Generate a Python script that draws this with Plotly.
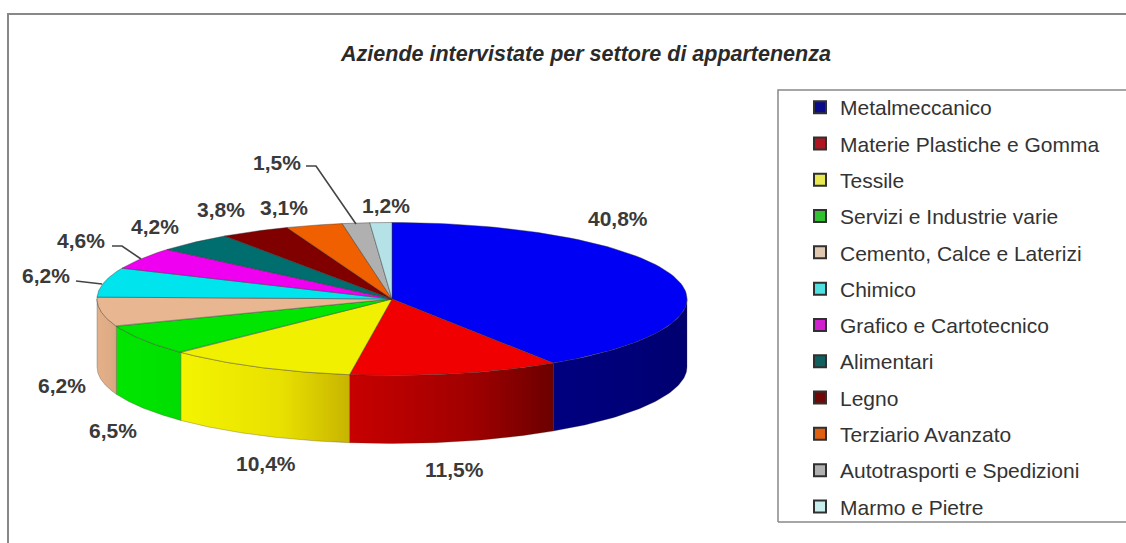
import numpy as np
import plotly.graph_objects as go

categories = ["Metalmeccanico", "Materie Plastiche e Gomma", "Tessile", "Servizi e Industrie varie",
              "Cemento, Calce e Laterizi", "Chimico", "Grafico e Cartotecnico", "Alimentari", "Legno",
              "Terziario Avanzato", "Autotrasporti e Spedizioni", "Marmo e Pietre"]
values = [40.8, 11.5, 10.4, 6.5, 6.2, 6.2, 4.6, 4.2, 3.8, 3.1, 1.5, 1.2]
top_colors = ["#0000F5", "#F00000", "#F0F000", "#00E600", "#E8B690", "#00E4EE",
              "#F000F0", "#006E6E", "#800000", "#F06000", "#B0B0B0", "#B4E2E6"]
wall_left = ["#000080", "#C80000", "#F4F400", "#00E600", "#E4B08A", "#00E4EE",
             "#F000F0", "#006E6E", "#800000", "#F06000", "#B0B0B0", "#B4E2E6"]
wall_mid = ["#000078", "#A00000", "#E8E000", "#00E200", "#DEAC86", "#00E4EE",
            "#F000F0", "#006E6E", "#800000", "#F06000", "#B0B0B0", "#B4E2E6"]
wall_right = ["#000070", "#6C0000", "#C8B400", "#00DC00", "#D8A880", "#00E4EE",
              "#F000F0", "#006E6E", "#800000", "#F06000", "#B0B0B0", "#B4E2E6"]
legend_colors = ["#0A0A8C", "#B01420", "#E8E850", "#30C030", "#E0C8B0", "#50E0E0",
                 "#D020D0", "#106060", "#700808", "#E06010", "#B0B0B0", "#C8EEEE"]

W, H = 1126, 543
CX, CY, RX, RY = 392, 299, 295, 76.5
DEPTH = 68 / RY

labels = [f"{v:.1f}%".replace(".", ",") for v in values]
label_px = [(618, 218), (455, 469), (266, 463), (113, 430), (62, 385), (46, 275),
            (81, 240), (155, 227), (221, 209), (284, 207), (386, 205), (277, 162)]
label_order = [0, 1, 2, 3, 4, 5, 6, 7, 8, 9, 11, 10]

def px(x): return x / W
def py(y): return 1 - y / H

fig = go.Figure()
edges = np.concatenate([[0], np.cumsum(values)]) / sum(values) * 2 * np.pi

for i in range(len(values)):
    a0, a1 = max(edges[i], np.pi / 2), min(edges[i + 1], 3 * np.pi / 2)
    if a1 <= a0:
        continue
    t = np.linspace(a0, a1, 60)
    xs = np.concatenate([np.sin(t), np.sin(t[::-1])])
    ys = np.concatenate([np.cos(t), np.cos(t[::-1]) - DEPTH])
    fig.add_trace(go.Scatter(
        x=np.append(xs, xs[0]), y=np.append(ys, ys[0]), mode="lines", fill="toself",
        line=dict(color="rgba(60,50,30,0.4)", width=0.7), showlegend=False, hoverinfo="skip",
        fillgradient=dict(type="horizontal",
                          colorscale=[[0, wall_left[i]], [0.6, wall_mid[i]], [1, wall_right[i]]])))

for i in range(len(values)):
    t = np.linspace(edges[i], edges[i + 1], 80)
    xs = np.concatenate([[0], np.sin(t), [0]])
    ys = np.concatenate([[0], np.cos(t), [0]])
    fig.add_trace(go.Scatter(x=xs, y=ys, mode="lines", fill="toself", fillcolor=top_colors[i],
                             line=dict(color="rgba(50,50,50,0.6)", width=0.7),
                             name=categories[i], showlegend=False,
                             hovertemplate=f"{categories[i]}: {labels[i]}<extra></extra>"))

for i, c in enumerate(categories):
    fig.add_trace(go.Scatter(x=[None], y=[None], mode="markers", name=c, legendgroup=c,
                             marker=dict(symbol="square", size=10, color=legend_colors[i],
                                         line=dict(color="#303030", width=1))))

annotations = [dict(x=px(label_px[i][0]), y=py(label_px[i][1]), xref="paper", yref="paper",
                    xanchor="center", yanchor="middle",
                    text=f"<b>{labels[label_order[i]]}</b>", showarrow=False,
                    font=dict(family="Liberation Sans", size=21, color="#3a3a3a"))
               for i in range(len(labels))]

line_style = dict(color="#444444", width=1.6)
def poly(points):
    return "M " + " L ".join(f"{px(a):.5f},{py(b):.5f}" for a, b in points)
shapes = [
    dict(type="path", xref="paper", yref="paper", path=poly([(306, 166), (316, 166), (356, 224)]), line=line_style),
    dict(type="path", xref="paper", yref="paper", path=poly([(112, 246), (122, 246), (141, 259)]), line=line_style),
    dict(type="path", xref="paper", yref="paper", path=poly([(76, 281), (102, 284)]), line=line_style),
    dict(type="path", xref="paper", yref="paper", path=poly([(8, 543), (8, 14), (1126, 14)]),
         line=dict(color="#888888", width=2)),
    dict(type="path", xref="paper", yref="paper", path=poly([(778, 522), (778, 90), (1126, 90)]),
         line=dict(color="#888888", width=1.5)),
    dict(type="path", xref="paper", yref="paper", path=poly([(778, 522), (1126, 522)]),
         line=dict(color="#888888", width=1.5)),
]

fig.update_layout(
    width=W, height=H, margin=dict(l=0, r=0, t=0, b=0, autoexpand=False), autosize=False,
    paper_bgcolor="white", plot_bgcolor="white",
    title=dict(text="<b><i>Aziende intervistate per settore di appartenenza</i></b>", x=586 / W, y=py(53),
               xanchor="center", yanchor="middle", xref="paper", yref="paper",
               font=dict(family="Liberation Sans", size=21.5, color="#2a2a2a")),
    xaxis=dict(range=[-CX / RX, (W - CX) / RX], visible=False, fixedrange=True),
    yaxis=dict(range=[(CY - H) / RY, CY / RY], visible=False, fixedrange=True),
    legend=dict(x=px(800), y=py(87), xanchor="left", yanchor="top", bgcolor="rgba(0,0,0,0)",
                tracegroupgap=6, itemsizing="constant", itemwidth=30, maxheight=1000,
                font=dict(family="Liberation Sans", size=21, color="#333333")),
    annotations=annotations, shapes=shapes,
)
fig.write_html("out.html", config={"displayModeBar": False},
               post_script="document.body.style.margin='0';document.documentElement.style.overflow='hidden';")
